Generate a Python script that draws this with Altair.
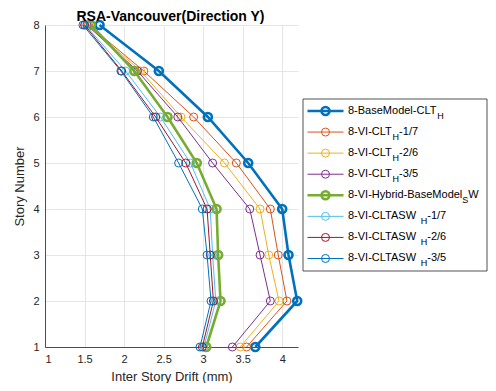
import altair as alt
import pandas as pd

# ---------------- data ----------------
stories = [1, 2, 3, 4, 5, 6, 7, 8]

series_names = [
    "8-BaseModel-CLT_H",
    "8-VI-CLT_H-1/7",
    "8-VI-CLT_H-2/6",
    "8-VI-CLT_H-3/5",
    "8-VI-Hybrid-BaseModel_SW",
    "8-VI-CLTASW_H-1/7",
    "8-VI-CLTASW_H-2/6",
    "8-VI-CLTASW_H-3/5",
]

# drift (mm) at stories 1..8
base_clt_h = [3.66, 4.19, 4.08, 4.00, 3.57, 3.06, 2.44, 1.69]
vi_clt_17 = [3.55, 4.06, 3.95, 3.85, 3.42, 2.88, 2.25, 1.55]
vi_clt_26 = [3.47, 3.96, 3.83, 3.72, 3.27, 2.72, 2.21, 1.54]
vi_clt_35 = [3.37, 3.85, 3.72, 3.59, 3.12, 2.68, 2.17, 1.53]
hybrid_sw = [3.04, 3.22, 3.19, 3.17, 2.92, 2.55, 2.13, 1.58]
cltasw_17 = [3.01, 3.16, 3.12, 3.09, 2.84, 2.46, 2.02, 1.51]
cltasw_26 = [2.99, 3.13, 3.09, 3.05, 2.78, 2.40, 1.97, 1.50]
cltasw_35 = [2.96, 3.10, 3.05, 2.99, 2.69, 2.37, 1.96, 1.48]

all_series = [base_clt_h, vi_clt_17, vi_clt_26, vi_clt_35,
              hybrid_sw, cltasw_17, cltasw_26, cltasw_35]

# legend label pieces: main text, subscript, tail
legend_main = ["8-BaseModel-CLT", "8-VI-CLT", "8-VI-CLT", "8-VI-CLT",
               "8-VI-Hybrid-BaseModel", "8-VI-CLTASW ", "8-VI-CLTASW ", "8-VI-CLTASW "]
legend_sub = ["H", "H", "H", "H", "S", "H", "H", "H"]
legend_tail = ["", "-1/7", "-2/6", "-3/5", "W", "-1/7", "-2/6", "-3/5"]

chart_title = "RSA-Vancouver(Direction Y)"
x_ticks = [1, 1.5, 2, 2.5, 3, 3.5, 4]
y_ticks = [1, 2, 3, 4, 5, 6, 7, 8]

# ---------------- styles ----------------
colors = ["#0072BD", "#D95319", "#EDB120", "#7E2F8E",
          "#77AC30", "#4DBEEE", "#A2142F", "#0072BD"]
line_widths = [2.6, 1, 1, 1, 2.6, 1, 1, 1]
FONT = "Liberation Sans"
MAIN_FS = 11
SUB_FS = 9

# Arial/Liberation Sans advance widths (per 1000 em)
ARIAL = {'8': 556, '-': 333, 'B': 667, 'a': 556, 's': 500, 'e': 556, 'M': 833,
         'o': 556, 'd': 556, 'l': 222, 'C': 722, 'L': 556, 'T': 611, 'V': 667,
         'I': 278, 'H': 722, 'y': 500, 'b': 556, 'r': 333, 'i': 222, 'A': 667,
         'S': 667, 'W': 944, ' ': 278, '/': 278, '1': 556, '2': 556, '3': 556,
         '5': 556, '6': 556, '7': 556}


def text_w(s, fs):
    return sum(ARIAL.get(c, 556) for c in s) * fs / 1000.0


# ---------------- tables ----------------
rows = []
for k, (name, vals) in enumerate(zip(series_names, all_series)):
    for st, v in zip(stories, vals):
        rows.append({"series": name, "story": st, "drift": v,
                     "lw": line_widths[k], "k": k})
df = pd.DataFrame(rows)

# legend layout (pixels relative to plot origin)
TOP_PAD = 17
LEG_L, LEG_R = 258, 442
LEG_T, LEG_B = 99 - 8 - TOP_PAD, 271 - 8 - TOP_PAD
ROW0, ROW_DY = 111 - 8 - TOP_PAD, 21.07
leg_rows = []
text_rows = []
sub_rows = []
for k, name in enumerate(series_names):
    ly = ROW0 + ROW_DY * k
    leg_rows.append({"series": name, "ly": ly, "lw": line_widths[k], "k": k})
    tx = LEG_L + 45
    text_rows.append({"tx": tx, "ly": ly, "t": legend_main[k]})
    sx = tx + text_w(legend_main[k], MAIN_FS)
    sub_rows.append({"tx": sx, "ly": ly + 5, "t": legend_sub[k]})
    tail_x = sx + text_w(legend_sub[k], SUB_FS)
    if legend_tail[k]:
        text_rows.append({"tx": tail_x, "ly": ly, "t": legend_tail[k]})
leg_df = pd.DataFrame(leg_rows)
text_df = pd.DataFrame(text_rows)
sub_df = pd.DataFrame(sub_rows)

color_scale = alt.Scale(domain=series_names, range=colors)

x_enc = alt.X("drift:Q",
              scale=alt.Scale(domain=[1, 4.2], nice=False, zero=False),
              axis=alt.Axis(values=x_ticks, format="~g", title="Inter Story Drift (mm)",
                            grid=True, ticks=False, labelPadding=6, titlePadding=6))
y_enc = alt.Y("story:Q",
              scale=alt.Scale(domain=[1, 8], nice=False, zero=False),
              axis=alt.Axis(values=y_ticks, format="d", title="Story Number",
                            grid=True, ticks=False, labelPadding=6, titlePadding=6))

layers = []
for k, name in enumerate(series_names):
    sub = df[df["series"] == name]
    base = alt.Chart(sub)
    line = base.mark_line().encode(
        x=x_enc, y=y_enc,
        color=alt.Color("series:N", scale=color_scale, legend=None),
        strokeWidth=alt.StrokeWidth("lw:Q", scale=None),
        order=alt.Order("story:Q"),
    )
    pts = base.mark_point(shape="circle", filled=False, size=64, opacity=1).encode(
        x=x_enc, y=y_enc,
        color=alt.Color("series:N", scale=color_scale, legend=None),
        strokeWidth=alt.StrokeWidth("lw:Q", scale=None),
    )
    layers += [line, pts]

# title as text
title_layer = alt.Chart(pd.DataFrame({"t": [chart_title]})).mark_text(
    align="center", baseline="alphabetic", font=FONT, fontSize=14,
    fontWeight="bold", color="#000000"
).encode(x=alt.value(125.5), y=alt.value(-4), text="t:N")

# legend
box = alt.Chart(pd.DataFrame({"a": [0]})).mark_rect(
    fill="white", stroke="#262626", strokeWidth=0.8
).encode(x=alt.value(LEG_L), x2=alt.value(LEG_R), y=alt.value(LEG_T), y2=alt.value(LEG_B))

leg_line = alt.Chart(leg_df).mark_rule().encode(
    x=alt.value(LEG_L + 4.5), x2=alt.value(LEG_L + 40.5),
    y=alt.Y("ly:Q", scale=None),
    color=alt.Color("series:N", scale=color_scale, legend=None),
    strokeWidth=alt.StrokeWidth("lw:Q", scale=None),
)
leg_pt = alt.Chart(leg_df).mark_point(shape="circle", filled=False, size=64, opacity=1).encode(
    x=alt.value(LEG_L + 22.5),
    y=alt.Y("ly:Q", scale=None),
    color=alt.Color("series:N", scale=color_scale, legend=None),
    strokeWidth=alt.StrokeWidth("lw:Q", scale=None),
)
leg_text = alt.Chart(text_df).mark_text(
    align="left", baseline="middle", font=FONT, fontSize=MAIN_FS, color="#000000"
).encode(x=alt.X("tx:Q", scale=None), y=alt.Y("ly:Q", scale=None), text="t:N")
leg_sub = alt.Chart(sub_df).mark_text(
    align="left", baseline="middle", font=FONT, fontSize=SUB_FS, color="#000000"
).encode(x=alt.X("tx:Q", scale=None), y=alt.Y("ly:Q", scale=None), text="t:N")

chart = alt.layer(*layers, title_layer, box, leg_line, leg_pt, leg_text, leg_sub).properties(
    width=253, height=322,
    autosize=alt.AutoSizeParams(type="none"),
    padding={"left": 37, "top": TOP_PAD, "right": 190, "bottom": 36},
).configure_view(stroke=None).configure_axis(
    domainColor="#262626", domainWidth=0.8, gridColor="#e0e0e0", gridWidth=0.8,
    labelColor="#262626", titleColor="#262626", labelFont=FONT, titleFont=FONT,
    labelFontSize=11, titleFontSize=13, titleFontWeight="normal",
)

chart.save("out.html", embed_options={"renderer": "svg", "actions": False})
